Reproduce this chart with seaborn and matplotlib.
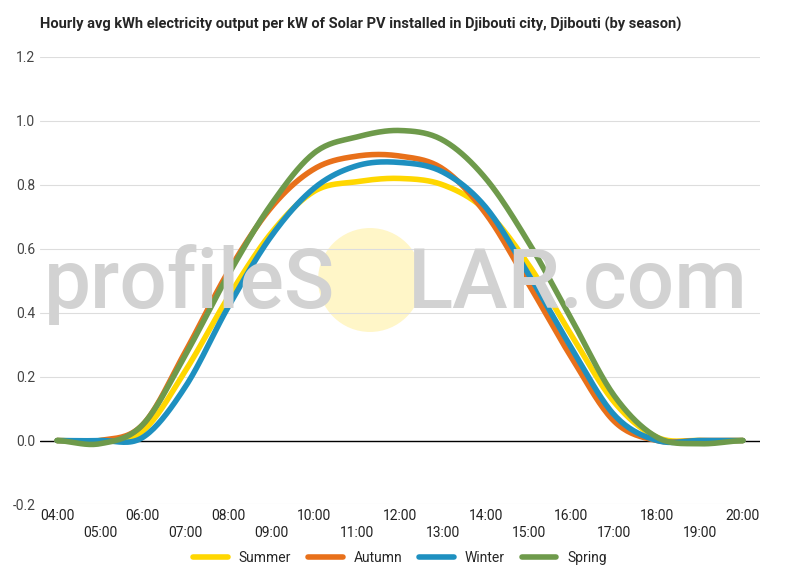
import numpy as np
import pandas as pd
import matplotlib
matplotlib.use("Agg")
import matplotlib.pyplot as plt
import seaborn as sns

hours = list(range(4, 21))
hour_labels = [f"{h:02d}:00" for h in hours]
summer = [0, 0, 0.03, 0.22, 0.45, 0.65, 0.78, 0.81, 0.82, 0.80, 0.72, 0.55, 0.33, 0.12, 0.01, 0, 0]
autumn = [0, 0, 0.05, 0.28, 0.53, 0.73, 0.85, 0.89, 0.89, 0.85, 0.71, 0.49, 0.26, 0.06, 0, 0, 0]
winter = [0, 0, 0.01, 0.17, 0.42, 0.64, 0.79, 0.86, 0.87, 0.84, 0.73, 0.52, 0.29, 0.08, 0, 0, 0]
spring = [0, -0.01, 0.05, 0.27, 0.52, 0.74, 0.90, 0.95, 0.97, 0.94, 0.82, 0.62, 0.38, 0.14, 0.01, -0.01, 0]
series = {"Summer": summer, "Autumn": autumn, "Winter": winter, "Spring": spring}
colors = {"Summer": "#FFD700", "Autumn": "#E8701A", "Winter": "#1E90C0", "Spring": "#6E9A4B"}

def catmull(x, y, n=20):
    x = np.asarray(x, float); y = np.asarray(y, float)
    xp = np.concatenate([[2*x[0]-x[1]], x, [2*x[-1]-x[-2]]])
    yp = np.concatenate([[y[0]], y, [y[-1]]])
    xs, ys = [], []
    for i in range(1, len(xp)-2):
        t = np.linspace(0, 1, n, endpoint=False)
        for arr, out in ((xp, xs), (yp, ys)):
            p0, p1, p2, p3 = arr[i-1], arr[i], arr[i+1], arr[i+2]
            out.extend(0.5*((2*p1) + (-p0+p2)*t + (2*p0-5*p1+4*p2-p3)*t**2 + (-p0+3*p1-3*p2+p3)*t**3))
    xs.append(x[-1]); ys.append(y[-1])
    return np.array(xs), np.array(ys)

rows = []
for name, vals in series.items():
    xs, ys = catmull(hours, vals)
    rows.append(pd.DataFrame({"hour": xs, "kwh": ys, "season": name}))
df = pd.concat(rows)

sns.set_theme(style="white")
plt.rcParams['font.family'] = ['Roboto', 'DejaVu Sans']
fig, ax = plt.subplots(figsize=(8, 5.7), dpi=100)
fig.subplots_adjust(left=0.05, right=0.95, top=0.9, bottom=0.115)

fig.text(335/800, 1-285/570, "profileS", fontsize=60, fontweight="medium", color="#d2d2d2",
         ha="right", va="center", zorder=0)
fig.text(408/800, 1-285/570, "LAR.com", fontsize=60, fontweight="medium", color="#d2d2d2",
         ha="left", va="center", zorder=0)
ax.scatter([0.5], [0.5], s=5600, color="#FFF6C8", transform=fig.transFigure, zorder=0, edgecolors="none")
ax.collections[-1].set_offsets([[370/800, 1-280/570]])

sns.lineplot(data=df, x="hour", y="kwh", hue="season", palette=colors, linewidth=4, ax=ax,
             sort=False, estimator=None)
ax.set_facecolor((1, 1, 1, 0))
ax.axhline(0, color="black", lw=1, zorder=1)
ax.set_ylim(-0.2, 1.2)
ax.set_yticks(np.arange(-0.2, 1.21, 0.2))
ax.set_yticklabels([f"{v:.1f}" for v in np.arange(-0.2, 1.21, 0.2)], fontsize=10, color="#444")
ax.set_xlim(3.6, 20.4)
ax.set_xticks(hours)
ax.set_xticklabels([l if i % 2 == 0 else "\n" + l for i, l in enumerate(hour_labels)], fontsize=10, color="#222")
ax.tick_params(axis="both", length=0)
ax.grid(axis="y", color="#dddddd", lw=0.8)
for s in ax.spines.values():
    s.set_visible(False)
ax.set_xlabel(""); ax.set_ylabel("")
ax.legend(loc="upper center", bbox_to_anchor=(0.5, -0.075), ncol=4, frameon=False, fontsize=10,
          handlelength=2.5, columnspacing=1.2)
fig.text(0.05, 0.95, "Hourly avg kWh electricity output per kW of Solar PV installed in Djibouti city, Djibouti (by season)",
         fontsize=10.5, fontweight="bold", ha="left")
fig.savefig("out.png")
